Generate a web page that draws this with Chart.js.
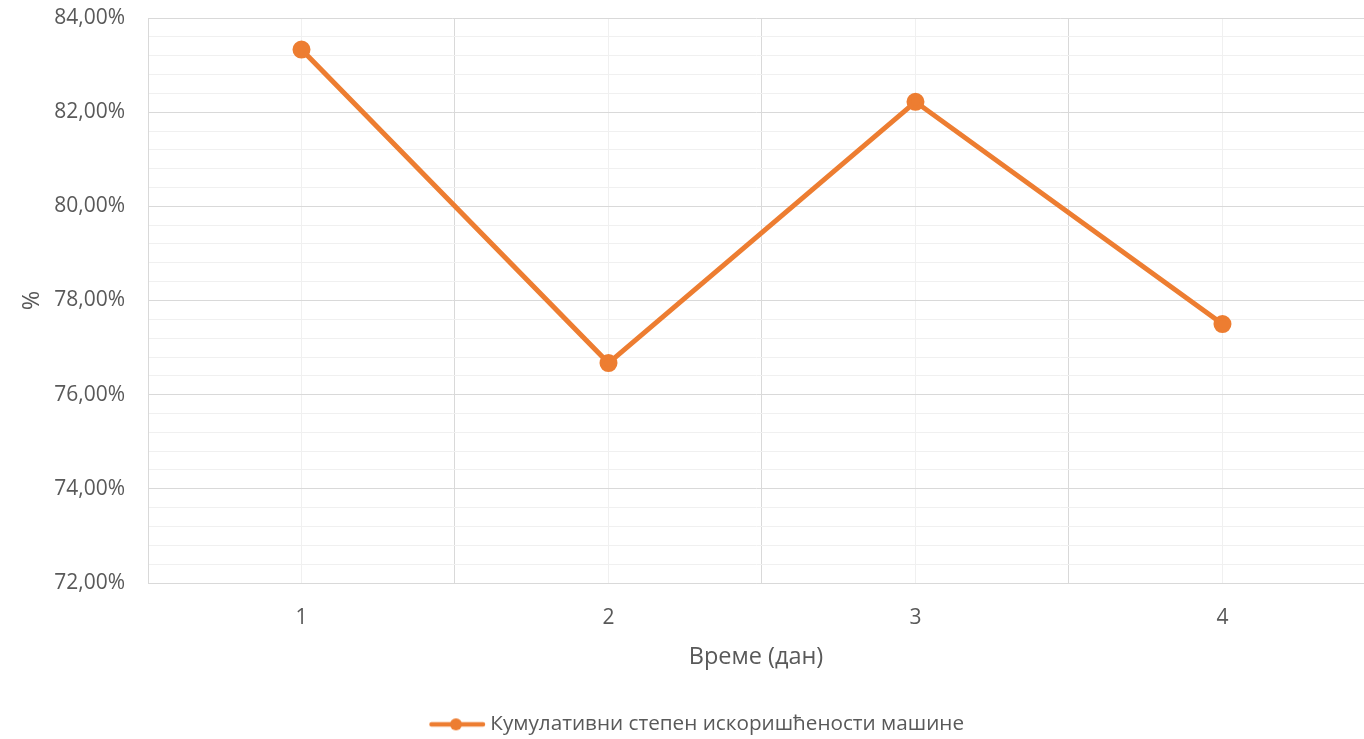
<!DOCTYPE html>
<html>
<head>
<meta charset="utf-8">
<script src="https://cdn.jsdelivr.net/npm/chart.js@4.4.1/dist/chart.umd.min.js"></script>
<style>
  html, body { margin: 0; padding: 0; background: #fff; overflow: hidden; }
  canvas { display: block; }
</style>
</head>
<body>
<canvas id="c" width="1364" height="739"></canvas>
<script>
const categories = ['1', '2', '3', '4'];
const seriesName = 'Кумулативни степен искоришћености машине';
const values = [83.33, 76.67, 82.22, 77.50];
const yMin = 72, yMax = 84, yStep = 0.4, yMajor = 2;
const xTitle = 'Време (дан)';
const yTitle = '%';
// the plot runs slightly past the right edge of the picture (last category band is cut)
const xMin = 0.5, xMax = 4.461;

const ORANGE = '#ED7D31';
const TEXT = '#595959';
const FONT = "'Open Sans', 'Noto Sans', sans-serif";

function legendIcon() {
  const c = document.createElement('canvas');
  c.width = 80; c.height = 14;
  const g = c.getContext('2d');
  g.strokeStyle = ORANGE; g.lineWidth = 4.5; g.lineCap = 'round';
  g.beginPath(); g.moveTo(23.5, 7); g.lineTo(75, 7); g.stroke();
  g.fillStyle = ORANGE;
  g.beginPath(); g.arc(48, 7, 6, 0, Math.PI * 2); g.fill();
  return c;
}
const icon = legendIcon();

const isMult = (v, m) => Math.abs(v / m - Math.round(v / m)) < 1e-6;

new Chart(document.getElementById('c'), {
  type: 'line',
  data: {
    datasets: [{
      label: seriesName,
      data: categories.map((c, i) => ({ x: i + 1, y: values[i] })),
      borderColor: ORANGE,
      backgroundColor: ORANGE,
      borderWidth: 5,
      pointRadius: 6.5,
      pointBackgroundColor: ORANGE,
      pointBorderColor: ORANGE,
      pointStyle: 'circle',
      tension: 0,
      fill: false
    }]
  },
  options: {
    responsive: false,
    animation: false,
    layout: { autoPadding: false, padding: { top: 18, right: 0, left: 16, bottom: 0 } },
    plugins: {
      tooltip: { enabled: false },
      legend: {
        position: 'bottom',
        maxHeight: 27,
        labels: {
          usePointStyle: true,
          pointStyleWidth: 64,
          color: TEXT,
          font: { family: FONT, size: 20.7 },
          padding: 2,
          generateLabels: (chart) => [{
            text: seriesName,
            pointStyle: icon,
            fillStyle: ORANGE,
            strokeStyle: ORANGE,
            lineWidth: 0,
            hidden: false,
            datasetIndex: 0,
            fontColor: TEXT
          }]
        }
      }
    },
    scales: {
      x: {
        type: 'linear',
        min: xMin,
        max: xMax,
        afterBuildTicks: (s) => {
          const t = [];
          for (let v = 0.5; v <= xMax + 1e-9; v += 0.5) t.push({ value: v });
          s.ticks = t;
        },
        afterFit: (s) => { s.height = 129; s.paddingLeft = 0; s.paddingRight = 0; },
        ticks: {
          autoSkip: false,
          maxRotation: 0,
          padding: 22,
          color: TEXT,
          font: { family: FONT, size: 21 },
          callback: (v) => isMult(v, 1) ? categories[Math.round(v) - 1] : ''
        },
        grid: {
          drawTicks: false,
          lineWidth: 1,
          color: (ctx) => (ctx.tick && isMult(ctx.tick.value, 1)) ? '#F0F0F0' : '#D9D9D9'
        },
        border: { display: true, color: '#D9D9D9', width: 1 },
        title: {
          display: true,
          text: xTitle,
          color: TEXT,
          font: { family: FONT, size: 23.5 },
          padding: { top: 0, bottom: 41 }
        }
      },
      y: {
        min: yMin,
        max: yMax,
        afterBuildTicks: (s) => {
          const t = [];
          const n = Math.round((yMax - yMin) / yStep);
          for (let i = 0; i <= n; i++) t.push({ value: yMin + i * yStep });
          s.ticks = t;
        },
        afterFit: (s) => { s.width = 132; s.paddingTop = 0; s.paddingBottom = 0; },
        ticks: {
          autoSkip: false,
          padding: 23,
          color: TEXT,
          font: { family: FONT, size: 21 },
          callback: (v) => isMult(v, yMajor) ? v.toFixed(2).replace('.', ',') + '%' : ''
        },
        grid: {
          drawTicks: false,
          lineWidth: 1,
          color: (ctx) => (ctx.tick && isMult(ctx.tick.value, yMajor)) ? '#D9D9D9' : '#F0F0F0'
        },
        border: { display: true, color: '#D9D9D9', width: 1 },
        title: {
          display: true,
          text: yTitle,
          color: TEXT,
          font: { family: FONT, size: 23.5 },
          padding: { top: 2, bottom: 0 }
        }
      }
    }
  }
});
</script>
</body>
</html>
